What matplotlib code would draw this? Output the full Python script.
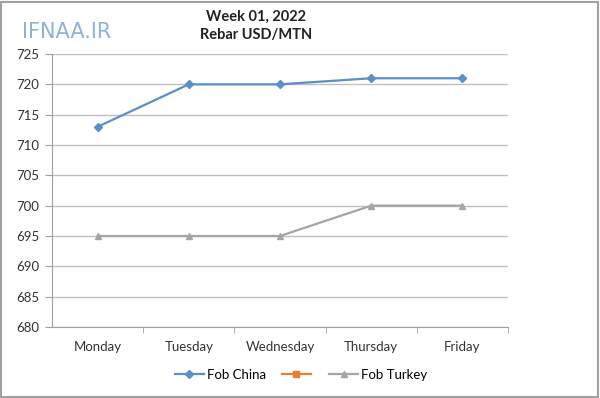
import matplotlib
matplotlib.use("Agg")
import matplotlib.pyplot as plt
from matplotlib.lines import Line2D
from matplotlib.patches import Rectangle

days = ["Monday", "Tuesday", "Wednesday", "Thursday", "Friday"]
fob_china = [713, 720, 720, 721, 721]
fob_turkey = [695, 695, 695, 700, 700]
yticks = [680, 685, 690, 695, 700, 705, 710, 715, 720, 725]

plt.rcParams['font.family'] = ['Lato', 'DejaVu Sans']

fig = plt.figure(figsize=(6, 3.98), dpi=100)
ax = fig.add_axes([52/600, 1-327/398, (508-52)/600, (327-54)/398])

x = list(range(len(days)))
c_china = '#5B8FC9'
c_orange = '#ED7D31'
c_turkey = '#A5A5A5'
ax.plot(x, fob_china, color=c_china, lw=1.6, marker='D', ms=4, zorder=3)
ax.plot(x, fob_turkey, color=c_turkey, lw=1.6, marker='^', ms=5, zorder=3)

ax.set_xlim(-0.5, 4.5)
ax.set_ylim(680, 725)
ax.set_yticks(yticks)
ax.set_yticklabels([str(v) for v in yticks], fontsize=9.5, color='#333333')
ax.set_xticks(x)
ax.set_xticklabels(days, fontsize=9.5, color='#333333')
ax.set_xticks([0.5, 1.5, 2.5, 3.5, 4.5], minor=True)
ax.tick_params(axis='x', which='major', length=0, pad=10)
ax.tick_params(axis='x', which='minor', length=4, color='#A0A0A0', direction='out')
ax.tick_params(axis='y', length=5, color='#A0A0A0', direction='out', pad=4)
ax.grid(axis='y', color='#BFBFBF', lw=1)
ax.set_axisbelow(True)
for s in ['top', 'right']:
    ax.spines[s].set_visible(False)
for s in ['left', 'bottom']:
    ax.spines[s].set_color('#A0A0A0')

fig.text(256/600, 1-17/398, "Week 01, 2022", ha='center', va='center', fontsize=10.5, fontweight='bold', color='#222222')
fig.text(256/600, 1-35/398, "Rebar USD/MTN", ha='center', va='center', fontsize=10.5, fontweight='bold', color='#222222')

fig.text(67/600, 1-32/398, "IFNAA.IR", ha='center', va='center', fontsize=15, color='#8FB1DE', family='DejaVu Sans')

handles = [
    Line2D([], [], color=c_china, lw=1.6, marker='D', ms=4),
    Line2D([], [], color=c_orange, lw=1.6, marker='s', ms=5),
    Line2D([], [], color=c_turkey, lw=1.6, marker='^', ms=5),
]
fig.legend(handles, ["Fob China", "", "Fob Turkey"], ncol=3, loc='center',
           bbox_to_anchor=(301/600, 1-375/398), frameon=False, fontsize=9.5,
           handlelength=2.2, handletextpad=0.2, columnspacing=1.2)

fig.patches.append(Rectangle((0.002, 0.003), 0.995, 0.993, transform=fig.transFigure,
                             fill=False, edgecolor='#A0A0A0', lw=1.5))

fig.savefig("out.png", dpi=100)
